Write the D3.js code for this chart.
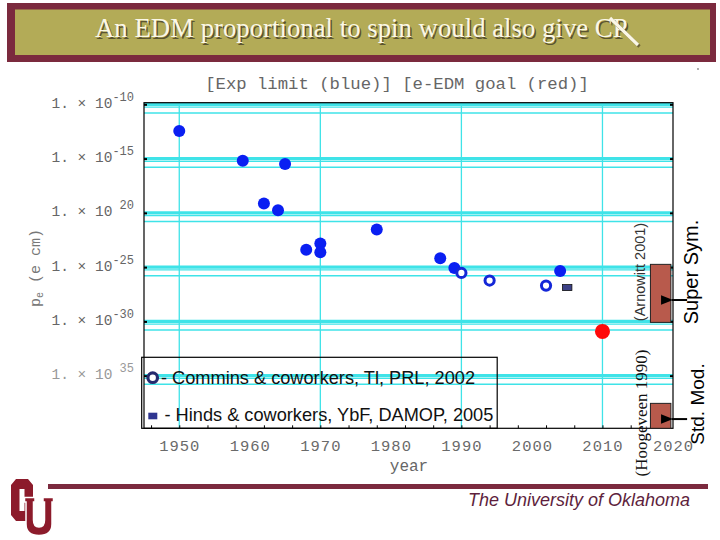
<!DOCTYPE html>
<html>
<head>
<meta charset="utf-8">
<script src="https://cdn.jsdelivr.net/npm/d3@7"></script>
<style>
body { margin: 0; background: #fff; }
svg { display: block; }
</style>
</head>
<body>
<svg width="720" height="540"></svg>
<script>
// values (year, |d_e| in e cm)
var limitYears  = [1950, 1959, 1962, 1964, 1965, 1968, 1970, 1970, 1978, 1987, 1989, 2004];
var limitValues = [3.5e-13, 6.3e-16, 7.4e-20, 1.7e-20, 3.1e-16, 3.9e-24, 1.5e-23, 2.3e-24, 3.0e-22, 6.6e-25, 8.3e-26, 4.5e-26];
var comminsYears  = [1990, 1994, 2002];
var comminsValues = [2.9e-26, 5.8e-27, 2.0e-27];
var hindsYears  = [2005];
var hindsValues = [1.3e-27];
var goalYears  = [2010];
var goalValues = [1.2e-31];

var theoryNames   = ["Super Sym.", "Std. Mod."];
var theoryRefs    = ["(Arnowitt 2001)", "(Hoogeveen 1990)"];
var theoryYears   = [[2016.8, 2019.7], [2016.8, 2019.7]];
var theoryRanges  = [[1.8e-25, 8.1e-31], [2.8e-38, 1e-40]];
var theoryArrowAt = [9.3e-29, 1.0e-39];

var xTickYears  = [1950, 1960, 1970, 1980, 1990, 2000, 2010, 2020];
var xGridYears  = [1950, 1970, 1990, 2010];
var yTickValues = [1e-10, 1e-15, 1e-20, 1e-25, 1e-30, 1e-35];
var yTickExps   = ["-10", "-15", " 20", "-25", "-30", " 35"];

var legendLabels = ["- Commins & coworkers, Tl, PRL, 2002", "- Hinds & coworkers, YbF, DAMOP, 2005"];

var maroon = "#7b2a3e";
var cyan = "#3fe3e8";
var mono = "'Liberation Mono', 'DejaVu Sans Mono', monospace";
var sans = "'Liberation Sans', Arial, sans-serif";
var serif = "'Liberation Serif', 'Times New Roman', serif";

var svg = d3.select("svg");

// ---- header bar
svg.append("rect").attr("x", 7).attr("y", 3).attr("width", 709).attr("height", 59).attr("fill", maroon);
svg.append("rect").attr("x", 15).attr("y", 9.5).attr("width", 695).attr("height", 45.5).attr("fill", "#b3ab57");

var titleText = "An EDM proportional to spin would also give CP";
var shadow = svg.append("text")
  .attr("x", 96.5).attr("y", 38.5)
  .attr("font-family", serif).attr("font-size", 25)
  .attr("fill", "#5b5330")
  .text(titleText);
var title = svg.append("text")
  .attr("x", 95).attr("y", 37)
  .attr("font-family", serif).attr("font-size", 25)
  .attr("fill", "#fbf7e6")
  .text(titleText);
var tw = title.node().getComputedTextLength();
var fs = 25 * 533 / tw;
title.attr("font-size", fs);
shadow.attr("font-size", fs);

// the slash through "CP"
svg.append("line").attr("x1", 611.5).attr("y1", 19.5).attr("x2", 639.5).attr("y2", 46.5)
  .attr("stroke", "#6d6438").attr("stroke-width", 3.2);
svg.append("line").attr("x1", 610).attr("y1", 18).attr("x2", 638).attr("y2", 45)
  .attr("stroke", "#fbf7e6").attr("stroke-width", 3.2);

svg.append("circle").attr("cx", 698).attr("cy", 69).attr("r", 0.9).attr("fill", "#888");

// ---- plot
var x = d3.scaleLinear().domain([1945, 2020]).range([144, 673]);
var y = d3.scaleLog().domain([Math.pow(10, -39.85), Math.pow(10, -9.85)]).range([428.3, 102.7]).clamp(true);

svg.append("text")
  .attr("x", 397).attr("y", 89)
  .attr("text-anchor", "middle")
  .attr("font-family", mono).attr("font-size", 17.3)
  .attr("fill", "#666")
  .text("[Exp limit (blue)] [e-EDM goal (red)]");

var grid = svg.append("g");
// horizontal grid bundles (one strong line per labelled decade, with fainter neighbours)
yTickValues.forEach(function(v) {
  [[1, 3.4], [0.56, 1.3], [0.16, 1.4]].forEach(function(p) {
    grid.append("line")
      .attr("x1", x(1945)).attr("x2", x(2020))
      .attr("y1", y(v * p[0])).attr("y2", y(v * p[0]))
      .attr("stroke", cyan).attr("stroke-width", p[1]);
  });
});
grid.selectAll(".vgrid")
  .data(xGridYears)
  .enter().append("line")
  .attr("class", "vgrid")
  .attr("x1", function(d) { return x(d); }).attr("x2", function(d) { return x(d); })
  .attr("y1", y.range()[1]).attr("y2", y.range()[0])
  .attr("stroke", cyan).attr("stroke-width", 1.3);

// small tick marks on the frame
var minorYears = d3.range(1946, 2020, 4);
svg.append("g")
  .attr("transform", "translate(0," + y.range()[0] + ")")
  .call(d3.axisBottom(x).tickValues(minorYears).tickSize(-3).tickFormat(""))
  .call(function(g) { g.select(".domain").remove(); });
svg.append("g")
  .attr("transform", "translate(" + x(1945) + ",0)")
  .call(d3.axisLeft(y).tickValues(yTickValues).tickSize(-3).tickFormat(""))
  .call(function(g) { g.select(".domain").remove(); g.selectAll("line").attr("stroke-width", 2); });
svg.append("g")
  .attr("transform", "translate(" + x(2020) + ",0)")
  .call(d3.axisRight(y).tickValues(yTickValues).tickSize(-3).tickFormat(""))
  .call(function(g) { g.select(".domain").remove(); g.selectAll("line").attr("stroke-width", 2); });

// x labels
var xAxis = svg.append("g")
  .attr("transform", "translate(0," + y.range()[0] + ")")
  .call(d3.axisBottom(x).tickValues(xTickYears).tickSize(0).tickPadding(12).tickFormat(d3.format("d")));
xAxis.select(".domain").remove();
xAxis.selectAll("text")
  .attr("font-family", mono).attr("font-size", 15.5).attr("fill", "#6a6a6a")
  .attr("letter-spacing", 1);

svg.append("text")
  .attr("x", 409).attr("y", 471)
  .attr("text-anchor", "middle")
  .attr("font-family", mono).attr("font-size", 16).attr("fill", "#666")
  .text("year");

// y labels: "1. × 10" with exponent
var yAxis = svg.append("g")
  .attr("transform", "translate(134,0)")
  .call(d3.axisLeft(y).tickValues(yTickValues).tickSize(0).tickPadding(0).tickFormat(""));
yAxis.select(".domain").remove();
yAxis.selectAll("text").each(function(d, i) {
  var t = d3.select(this)
    .attr("font-family", mono).attr("fill", i === 5 ? "#999" : "#666")
    .attr("dy", "0.3em");
  t.append("tspan").attr("font-size", 14.5).text("1. \u00d7 10");
  t.append("tspan").attr("font-size", 12).attr("dy", -7).text(yTickExps[i]);
});

svg.append("text")
  .attr("transform", "translate(40,268) rotate(-90)")
  .attr("text-anchor", "middle")
  .attr("font-family", mono).attr("font-size", 15).attr("fill", "#777")
  .call(function(t) {
    t.append("tspan").text("p");
    t.append("tspan").attr("font-size", 10).attr("dy", 3).text("e");
    t.append("tspan").attr("dy", -3).text("  (e cm)");
  });

// frame
svg.append("rect")
  .attr("x", x(1945)).attr("y", y.range()[1])
  .attr("width", x(2020) - x(1945)).attr("height", y.range()[0] - y.range()[1])
  .attr("fill", "none").attr("stroke", "#000").attr("stroke-width", 1.2);

// theory bands
var theory = theoryNames.map(function(n, i) {
  return { name: n, ref: theoryRefs[i], x0: theoryYears[i][0], x1: theoryYears[i][1],
           hi: theoryRanges[i][0], lo: theoryRanges[i][1], arrow: theoryArrowAt[i] };
});
svg.selectAll(".band")
  .data(theory)
  .enter().append("rect")
  .attr("class", "band")
  .attr("x", function(d) { return x(d.x0); })
  .attr("y", function(d) { return y(d.hi); })
  .attr("width", function(d) { return x(d.x1) - x(d.x0); })
  .attr("height", function(d) { return y(d.lo) - y(d.hi); })
  .attr("fill", "#b85a4c").attr("stroke", "#222").attr("stroke-width", 1);

svg.append("defs").append("marker")
  .attr("id", "head").attr("viewBox", "0 0 10 10")
  .attr("refX", 1).attr("refY", 5)
  .attr("markerWidth", 6).attr("markerHeight", 6)
  .attr("orient", "auto")
  .append("path").attr("d", "M10,1 L0,5 L10,9 Z").attr("fill", "#000");

svg.selectAll(".arrow")
  .data(theory)
  .enter().append("line")
  .attr("class", "arrow")
  .attr("x1", x(2022)).attr("x2", function(d) { return x(d.x1) + 1; })
  .attr("y1", function(d) { return y.copy().clamp(false)(d.arrow); })
  .attr("y2", function(d) { return y.copy().clamp(false)(d.arrow); })
  .attr("stroke", "#000").attr("stroke-width", 2)
  .attr("marker-end", "url(#head)");

var refPos = [[640, 272], [641, 413]];
var namePos = [[691, 272], [697, 404]];
svg.selectAll(".ref")
  .data(theory)
  .enter().append("text")
  .attr("class", "ref")
  .attr("transform", function(d, i) { return "translate(" + refPos[i] + ") rotate(-90)"; })
  .attr("text-anchor", "middle").attr("dy", "0.35em")
  .attr("font-family", function(d, i) { return i === 0 ? sans : serif; })
  .attr("font-size", function(d, i) { return i === 0 ? 14.5 : 17; })
  .attr("fill", function(d, i) { return i === 0 ? "#333" : "#111"; })
  .text(function(d) { return d.ref; });
svg.selectAll(".tname")
  .data(theory)
  .enter().append("text")
  .attr("class", "tname")
  .attr("transform", function(d, i) { return "translate(" + namePos[i] + ") rotate(-90)"; })
  .attr("text-anchor", "middle").attr("dy", "0.35em")
  .attr("font-family", sans).attr("font-size", function(d, i) { return i === 0 ? 20 : 19; })
  .attr("fill", "#000")
  .text(function(d) { return d.name; });

// data marks
svg.selectAll(".limit")
  .data(limitYears)
  .enter().append("circle")
  .attr("class", "limit")
  .attr("cx", function(d) { return x(d); })
  .attr("cy", function(d, i) { return y(limitValues[i]); })
  .attr("r", 6).attr("fill", "#0a1ff2");

svg.selectAll(".commins")
  .data(comminsYears)
  .enter().append("circle")
  .attr("class", "commins")
  .attr("cx", function(d) { return x(d); })
  .attr("cy", function(d, i) { return y(comminsValues[i]); })
  .attr("r", 4.6).attr("fill", "#fff").attr("stroke", "#1427d8").attr("stroke-width", 3);

svg.selectAll(".hinds")
  .data(hindsYears)
  .enter().append("rect")
  .attr("class", "hinds")
  .attr("x", function(d) { return x(d) - 4.7; })
  .attr("y", function(d, i) { return y(hindsValues[i]) - 3; })
  .attr("width", 9.4).attr("height", 6)
  .attr("fill", "#3d4187").attr("stroke", "#111").attr("stroke-width", 0.8);

svg.selectAll(".goal")
  .data(goalYears)
  .enter().append("circle")
  .attr("class", "goal")
  .attr("cx", function(d) { return x(d); })
  .attr("cy", function(d, i) { return y(goalValues[i]); })
  .attr("r", 7.5).attr("fill", "#ff0a0a");

// legend
var legend = svg.append("g");
legend.append("rect")
  .attr("x", 141.7).attr("y", 357.3).attr("width", 355.5).attr("height", 71)
  .attr("fill", "none").attr("stroke", "#000").attr("stroke-width", 1.2);
legend.append("circle").attr("cx", 152.7).attr("cy", 377.7).attr("r", 4.8)
  .attr("fill", "#fff").attr("stroke", "#262a6e").attr("stroke-width", 3.2);
legend.append("rect").attr("x", 148.3).attr("y", 412.7).attr("width", 9).attr("height", 6.6)
  .attr("fill", "#2e3590");
legend.selectAll(".ltext")
  .data(legendLabels)
  .enter().append("text")
  .attr("class", "ltext")
  .attr("x", function(d, i) { return i === 0 ? 161 : 164.5; })
  .attr("y", function(d, i) { return i === 0 ? 384 : 420.5; })
  .attr("font-family", sans).attr("font-size", 18.2).attr("fill", "#111")
  .text(function(d) { return d; });

// ---- footer
svg.append("rect").attr("x", 48).attr("y", 484).attr("width", 660).attr("height", 5).attr("fill", maroon);
svg.append("text")
  .attr("x", 690).attr("y", 506)
  .attr("text-anchor", "end")
  .attr("font-family", sans).attr("font-style", "italic").attr("font-size", 18)
  .attr("fill", "#5e1f3d")
  .text("The University of Oklahoma");

var logo = svg.append("g").attr("fill", "#8c1b2b");
logo.append("path")
  .attr("fill-rule", "evenodd")
  .attr("d", "M16,479 H28 L33,485 V515 L28,521 H16 L11,515 V485 Z M19.5,489 V511 H24.5 V489 Z");
logo.append("path")
  .attr("stroke", "#fff").attr("stroke-width", 1.5)
  .attr("d", "M24.5,497.5 H35 V502 H33.5 V520 Q33.5,527 39,527 Q44.5,527 44.5,520 V502 H43 V497.5 H53.5 V502 H52 V524 Q52,535.5 39,535.5 Q26,535.5 26,524 V502 H24.5 Z");
</script>
</body>
</html>
